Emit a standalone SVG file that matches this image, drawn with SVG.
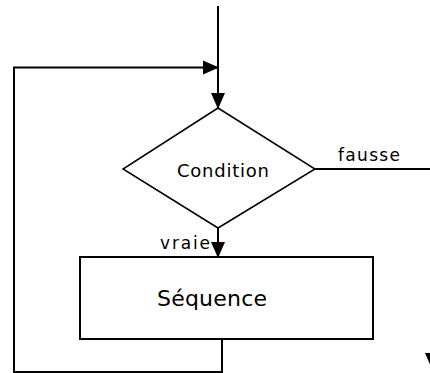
<svg xmlns="http://www.w3.org/2000/svg" width="430" height="373" viewBox="0 0 430 373">
  <style>
    .conn { fill: none; stroke: #000; stroke-width: 2; }
    .shape { fill: #fff; stroke: #000; }
    .lbl { font-family: "DejaVu Sans", "Liberation Sans", sans-serif; fill: #000; }
  </style>
  <defs>
    <marker id="arrow" markerUnits="userSpaceOnUse" markerWidth="16" markerHeight="16" viewBox="0 0 16 16" refX="15" refY="8" orient="auto">
      <path d="M0,1 L16,8 L0,15 z" fill="#000"/>
    </marker>
  </defs>
  <rect width="430" height="373" fill="#fff"/>
  <g id="connectors">
    <path class="conn" d="M218,6 V108" marker-end="url(#arrow)"/>
    <path class="conn" d="M222,339 V372 H14 V67.5 H218" marker-end="url(#arrow)"/>
    <path class="conn" d="M218,228 V257" marker-end="url(#arrow)"/>
    <path class="conn" d="M315,169 H432 V368" marker-end="url(#arrow)"/>
    <text class="lbl" x="338" y="161" font-size="17" textLength="62" lengthAdjust="spacing">fausse</text>
    <text class="lbl" x="160" y="249" font-size="17" textLength="50" lengthAdjust="spacing">vraie</text>
  </g>
  <g id="condition">
    <polygon class="shape" stroke-width="1.5" points="218,108 315,169 218,228 123,169"/>
    <text class="lbl" x="177" y="177" font-size="18" textLength="92" lengthAdjust="spacing">Condition</text>
  </g>
  <g id="sequence">
    <rect class="shape" stroke-width="2" x="80" y="257" width="293" height="82"/>
    <text class="lbl" x="157" y="306" font-size="22" textLength="110" lengthAdjust="spacing">Séquence</text>
  </g>
</svg>
